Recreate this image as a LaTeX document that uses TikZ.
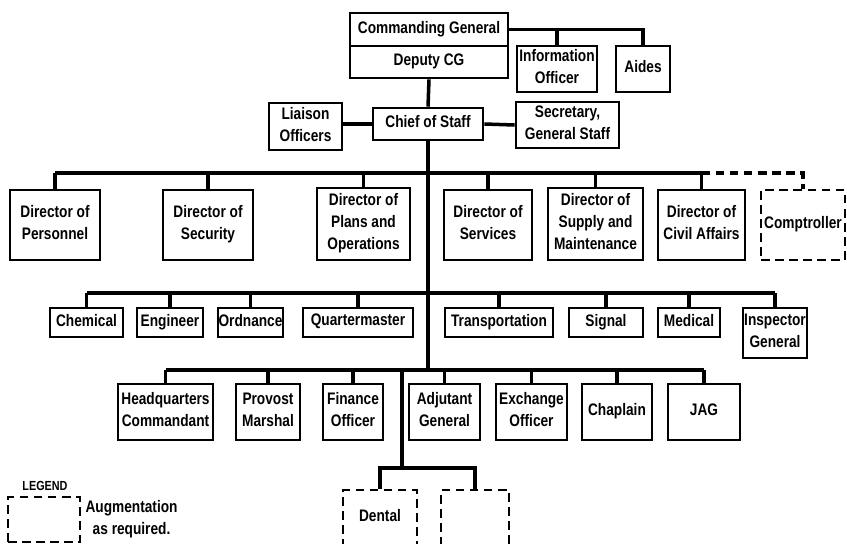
\documentclass[tikz,border=0pt]{standalone}
\usepackage{fontspec}
\setmainfont{Liberation Sans}[FakeStretch=0.82]
\def\ds{0.02}
\def\punkt#1#2{({(#1)*\ds},{-(#2)*\ds})}
\def\stuetze{\rule[-2.8pt]{0pt}{9.5pt}}
\def\kasten#1#2#3#4#5#6#7{
	\node[#1,minimum width={((#5)-(#3))*\ds*1cm},minimum height={((#6)-(#4))*\ds*1cm}]
		(#2) at \punkt{((#3)+(#5))/2}{((#4)+(#6))/2} {#7};
}

\begin{document}
\begin{tikzpicture}[thick,
	stelle/.style={draw,line width=1.5pt,inner sep=0pt,align=center,
		font=\bfseries\fontsize{9.5}{12.5}\selectfont,
		execute at begin node=\stuetze,execute at end node=\stuetze},
	zusatz/.style={stelle,dash pattern=on 5pt off 3pt},
	linie/.style={line width=2pt},
	zusatzlinie/.style={linie,dash pattern=on 5pt off 3pt}]
\useasboundingbox \punkt{0}{0} rectangle \punkt{847}{543};
\kasten{stelle}{cg}{350}{13}{508}{46}{Commanding General}
\kasten{stelle}{dcg}{350}{46}{508}{78}{Deputy CG}
\kasten{stelle}{info}{517}{46}{597}{92}{Information\\Officer}
\kasten{stelle}{aides}{616}{46}{670}{92}{Aides}
\kasten{stelle}{liaison}{269}{103}{342}{150}{Liaison\\Officers}
\kasten{stelle}{cos}{373}{108}{483}{140}{Chief of Staff}
\kasten{stelle}{secy}{516}{102}{619}{148}{Secretary,\\General Staff}

\kasten{stelle}{pers}{10}{190}{100}{260}{Director of\\Personnel}
\kasten{stelle}{secu}{163}{190}{253}{260}{Director of\\Security}
\kasten{stelle}{plans}{317}{188}{410}{260}{Director of\\Plans and\\Operations}
\kasten{stelle}{serv}{444}{190}{532}{260}{Director of\\Services}
\kasten{stelle}{supply}{548}{188}{643}{260}{Director of\\Supply and\\Maintenance}
\kasten{stelle}{civil}{658}{190}{745}{260}{Director of\\Civil Affairs}
\kasten{zusatz}{compt}{761}{190}{845}{260}{Comptroller}

\kasten{stelle}{chem}{50}{308}{123}{337}{Chemical}
\kasten{stelle}{engr}{137}{308}{203}{337}{Engineer}
\kasten{stelle}{ord}{218}{308}{283}{337}{Ordnance}
\kasten{stelle}{qm}{303}{308}{413}{337}{Quartermaster}
\kasten{stelle}{trans}{445}{308}{553}{337}{Transportation}
\kasten{stelle}{sig}{569}{308}{643}{337}{Signal}
\kasten{stelle}{med}{658}{308}{720}{337}{Medical}
\kasten{stelle}{ig}{743}{308}{807}{358}{Inspector\\General}

\kasten{stelle}{hq}{118}{384}{213}{440}{Headquarters\\Commandant}
\kasten{stelle}{pm}{236}{384}{300}{440}{Provost\\Marshal}
\kasten{stelle}{fin}{323}{384}{383}{440}{Finance\\Officer}
\kasten{stelle}{ag}{409}{384}{480}{440}{Adjutant\\General}
\kasten{stelle}{exch}{496}{384}{567}{440}{Exchange\\Officer}
\kasten{stelle}{chap}{582}{384}{652}{440}{Chaplain}
\kasten{stelle}{jag}{668}{384}{740}{440}{JAG}

\kasten{zusatz}{dental}{343}{490}{417}{546}{Dental}
\kasten{zusatz}{leer}{441}{490}{509}{546}{}

\path \punkt{428}{173} coordinate (b1);
\path \punkt{428}{293} coordinate (b2);
\path \punkt{428}{370} coordinate (b3);
\path \punkt{402}{468} coordinate (b4);

\draw[linie] (cg.east) -| (aides.north);
\draw[linie] (info.north) -- (info.north |- cg.east);
\draw[linie] (dcg.south) -- (cos.north);
\draw[linie] (cos.west) -- (cos.west -| liaison.east);
\draw[linie] (cos.east) -- (secy.west);
\draw[linie] (cos.south) -- (b3);

\draw[linie] (pers.north |- b1) -- (civil.north |- b1);
\foreach \n in {pers,secu,plans,serv,supply,civil}
	\draw[linie] (\n.north) -- (\n.north |- b1);
\draw[zusatzlinie] (civil.north |- b1) -| (compt.north);

\draw[linie] (chem.north |- b2) -- (ig.north |- b2);
\foreach \n in {chem,engr,ord,qm,trans,sig,med,ig}
	\draw[linie] (\n.north) -- (\n.north |- b2);

\draw[linie] (hq.north |- b3) -- (jag.north |- b3);
\foreach \n in {hq,pm,fin,ag,exch,chap,jag}
	\draw[linie] (\n.north) -- (\n.north |- b3);

\draw[linie] (b4 |- b3) -- (b4);
\draw[linie] (dental.north) |- (b4) -| (leer.north);

\node[font=\bfseries\fontsize{7.5}{8}\selectfont] (legende) at \punkt{45}{486} {LEGEND};
\kasten{zusatz}{muster}{8}{497}{80}{542}{}
\node[anchor=west,inner sep=2pt,align=center,font=\bfseries\fontsize{9.5}{12.5}\selectfont]
	(erklaerung) at (muster.east) {Augmentation\\as required.};
\end{tikzpicture}
\end{document}
